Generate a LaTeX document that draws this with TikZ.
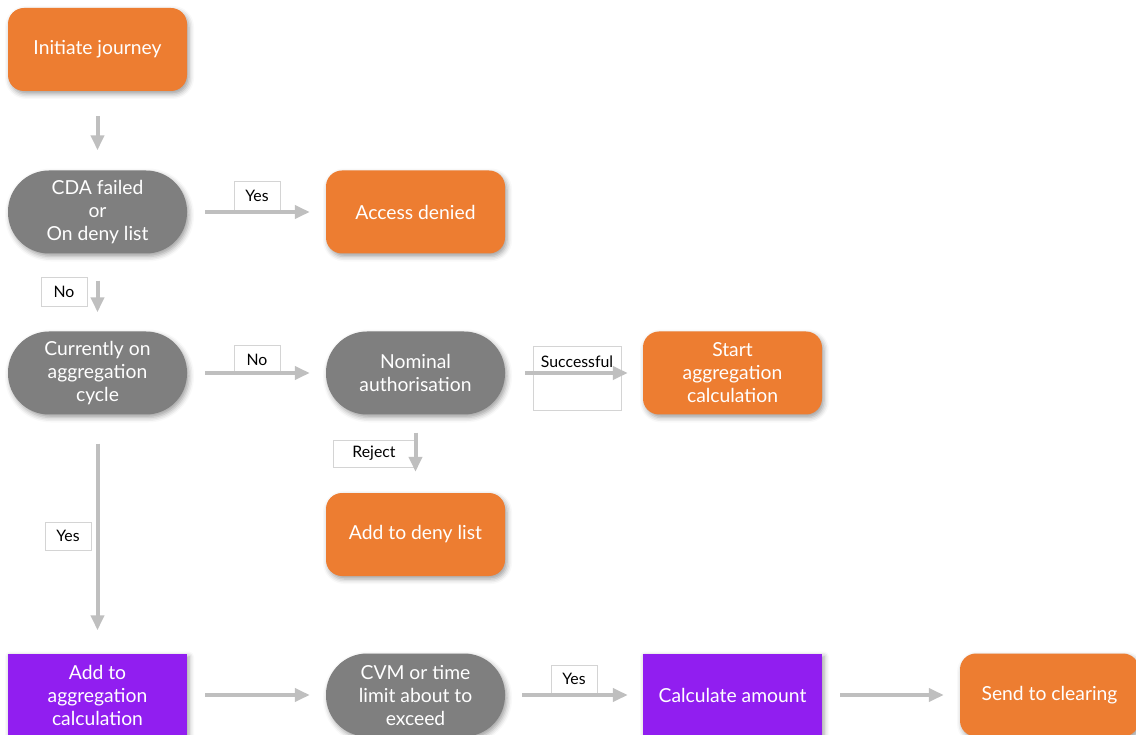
\documentclass[tikz,border=0pt]{standalone}
\usepackage{fontspec}
\setmainfont{Lato}
\usetikzlibrary{arrows.meta,shadows.blur}
\definecolor{journeyOrange}{RGB}{237,125,49}
\definecolor{journeyGrey}{RGB}{127,127,127}
\definecolor{journeyPurple}{RGB}{145,30,240}
\definecolor{arrowGrey}{RGB}{191,191,191}
\definecolor{labelEdge}{RGB}{212,212,212}

\begin{document}
\begin{tikzpicture}[x=1pt,y=-1pt,
  box/.style={minimum width=179pt,minimum height=83pt,inner sep=2pt,text=white,align=center,
    font=\fontsize{19.3}{23}\selectfont,
    blur shadow={shadow xshift=2pt,shadow yshift=-3pt,shadow blur radius=5pt,shadow opacity=38}},
  endbox/.style={box,fill=journeyOrange,rounded corners=16pt},
  testbox/.style={box,fill=journeyGrey,rounded corners=41pt},
  stepbox/.style={box,fill=journeyPurple},
  choice/.style={draw=labelEdge,fill=white,line width=0.8pt,inner sep=0pt,
    minimum width=46pt,minimum height=29pt,font=\fontsize{15.8}{18}\selectfont},
  flow/.style={draw=arrowGrey,line width=4pt,-{Triangle[length=15pt,width=13pt]},
    shorten <=18pt,shorten >=16pt}]
\useasboundingbox (0,0) rectangle (1136,735);

\node[endbox]  (initJourney)     at (  97.5, 49.5) {Initiate journey};
\node[testbox] (cdaFailed)       at (  97.5,212  ) {CDA failed\\or\\On deny list};
\node[endbox]  (accessDenied)    at ( 415.5,212  ) {Access denied};
\node[testbox] (aggCycle)        at (  97.5,373  ) {Currently on\\aggregation\\cycle};
\node[testbox] (nominalAuth)     at ( 415.5,373  ) {Nominal\\authorisation};
\node[endbox]  (startAgg)        at ( 732.5,373  ) {Start\\aggregation\\calculation};
\node[endbox]  (addDenyList)     at ( 415.5,534.5) {Add to deny list};
\node[stepbox] (addAgg)          at (  97.5,695  ) {Add to\\aggregation\\calculation};
\node[testbox] (cvmLimit)        at ( 415.5,695  ) {CVM or time\\limit about to\\exceed};
\node[stepbox] (calcAmount)      at ( 732.5,695  ) {Calculate amount};
\node[endbox]  (sendClearing)    at (1049.5,695  ) {Send to clearing};

\node[choice]  (yesDenied)       at ( 257,196  ) {Yes};
\node[choice]  (noCda)           at (  64,291.5) {No};
\node[choice]  (noCycle)         at ( 257,359.5) {No};
\node[choice,minimum width=88pt,minimum height=64pt,text height=11pt,text depth=31pt]
               (successfulAuth)  at ( 577,378  ) {Successful};
\node[choice,minimum width=82pt,minimum height=27pt]
               (rejectAuth)      at ( 374,453.5) {Reject};
\node[choice,minimum height=28pt] (yesCycle) at (68,536) {Yes};
\node[choice,minimum height=28pt] (yesCvm)   at (574,679) {Yes};

\draw[flow,shorten <=25pt,shorten >=20pt] (initJourney) -- (cdaFailed);
\draw[flow] (cdaFailed) -- (accessDenied);
\draw[flow,shorten <=27pt,shorten >=19pt] (cdaFailed) -- (aggCycle);
\draw[flow] (aggCycle) -- (nominalAuth);
\draw[flow,shorten <=20pt,shorten >=15pt] (nominalAuth) -- (startAgg);
\draw[flow,shorten <=18pt,shorten >=21pt] (nominalAuth) -- (addDenyList);
\draw[flow,shorten <=29pt,shorten >=23pt] (aggCycle) -- (addAgg);
\draw[flow] (addAgg) -- (cvmLimit);
\draw[flow,shorten <=17pt,shorten >=15pt] (cvmLimit) -- (calcAmount);
\draw[flow] (calcAmount) -- (sendClearing);
\end{tikzpicture}
\end{document}
